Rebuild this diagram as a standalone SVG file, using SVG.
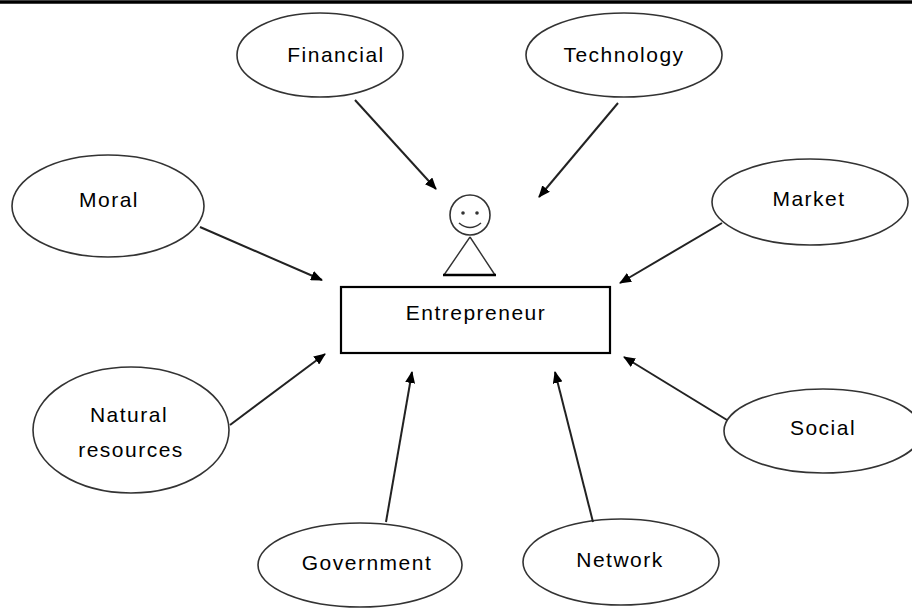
<svg xmlns="http://www.w3.org/2000/svg" width="912" height="608" viewBox="0 0 912 608">
<defs>
<marker id="ah" viewBox="0 0 12 10" refX="11" refY="5" markerWidth="12" markerHeight="10" markerUnits="userSpaceOnUse" orient="auto">
<path d="M0,0 L12,5 L0,10 z" fill="#000"/>
</marker>
<style>
.node ellipse{fill:#fff;stroke:#333;stroke-width:1.6}
.lbl{font-family:"Liberation Sans",Arial,sans-serif;font-size:21px;letter-spacing:1.5px;fill:#000;text-anchor:middle}
.conn line{stroke:#222;stroke-width:2;marker-end:url(#ah)}
</style>
</defs>
<rect x="0" y="0" width="912" height="608" fill="#fff"/>
<line x1="0" y1="2" x2="912" y2="2" stroke="#000" stroke-width="3.5"/>
<g id="financial" class="node"><ellipse cx="320" cy="55" rx="83" ry="42"/><text class="lbl" x="336" y="62">Financial</text></g>
<g id="technology" class="node"><ellipse cx="624" cy="55" rx="98" ry="42"/><text class="lbl" x="624" y="62">Technology</text></g>
<g id="moral" class="node"><ellipse cx="108" cy="206" rx="96" ry="51"/><text class="lbl" x="109" y="207">Moral</text></g>
<g id="market" class="node"><ellipse cx="810" cy="202" rx="98" ry="43"/><text class="lbl" x="809" y="206">Market</text></g>
<g id="natural" class="node"><ellipse cx="131" cy="430" rx="98" ry="63"/><text class="lbl" x="129" y="422">Natural</text><text class="lbl" x="131" y="457">resources</text></g>
<g id="social" class="node"><ellipse cx="823" cy="431" rx="99" ry="42"/><text class="lbl" x="823" y="435">Social</text></g>
<g id="government" class="node"><ellipse cx="360" cy="565" rx="102" ry="42"/><text class="lbl" x="367" y="570">Government</text></g>
<g id="network" class="node"><ellipse cx="621" cy="562" rx="98" ry="43"/><text class="lbl" x="620" y="567">Network</text></g>
<g id="entrepreneur">
<circle cx="470" cy="215" r="20" fill="#fff" stroke="#333" stroke-width="1.6"/>
<circle cx="463" cy="213" r="1.8" fill="#333"/>
<circle cx="477" cy="213" r="1.8" fill="#333"/>
<path d="M459,223 Q470,232 481,223" fill="none" stroke="#333" stroke-width="1.6"/>
<path d="M470,237 L444,275 M470,237 L495,275" fill="none" stroke="#333" stroke-width="1.4"/>
<line x1="443" y1="275" x2="496" y2="275" stroke="#000" stroke-width="2.5"/>
<rect x="341" y="287" width="269" height="66" fill="#fff" stroke="#000" stroke-width="2.2"/>
<text class="lbl" x="476" y="320">Entrepreneur</text>
</g>
<g id="connectors" class="conn">
<line x1="355" y1="100" x2="436" y2="189"/>
<line x1="618" y1="103" x2="539" y2="197"/>
<line x1="722" y1="223" x2="620" y2="283"/>
<line x1="200" y1="227" x2="322" y2="280"/>
<line x1="230" y1="425" x2="325" y2="354"/>
<line x1="386" y1="522" x2="412" y2="372"/>
<line x1="593" y1="522" x2="555" y2="372"/>
<line x1="727" y1="420" x2="624" y2="357"/>
</g>
</svg>
